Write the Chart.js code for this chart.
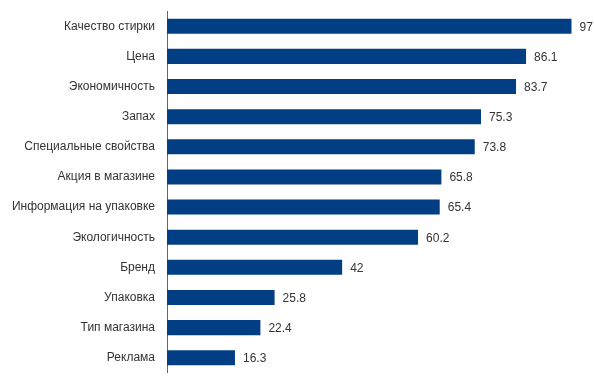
<!DOCTYPE html>
<html>
<head>
<meta charset="utf-8">
<script src="https://cdn.jsdelivr.net/npm/chart.js@4/dist/chart.umd.min.js"></script>
<style>
  html, body { margin: 0; padding: 0; background: #fff; }
  #wrap { width: 594px; height: 384px; }
</style>
</head>
<body>
<div id="wrap"><canvas id="chart" width="594" height="384"></canvas></div>
<script>
// Факторы выбора стирального порошка, %
const categories = [
    'Качество стирки', 'Цена', 'Экономичность', 'Запах', 'Специальные свойства',
    'Акция в магазине', 'Информация на упаковке', 'Экологичность', 'Бренд',
    'Упаковка', 'Тип магазина', 'Реклама'
];
const values = [97, 86.1, 83.7, 75.3, 73.8, 65.8, 65.4, 60.2, 42, 25.8, 22.4, 16.3];

// draws the value to the right of each bar
const valueLabels = {
    id: 'valueLabels',
    afterDatasetsDraw(chart) {
        const ctx = chart.ctx;
        const meta = chart.getDatasetMeta(0);
        ctx.save();
        ctx.font = '12px Arial, "Liberation Sans", sans-serif';
        ctx.fillStyle = '#333';
        ctx.textAlign = 'left';
        ctx.textBaseline = 'middle';
        meta.data.forEach(function (bar, i) {
            ctx.fillText(String(values[i]), bar.x + 8, bar.y + 1);
        });
        ctx.restore();
    }
};

new Chart(document.getElementById('chart'), {
    type: 'bar',
    data: {
        labels: categories,
        datasets: [{
            data: values,
            backgroundColor: '#023e84',
            categoryPercentage: 1,
            barPercentage: 0.5
        }]
    },
    options: {
        indexAxis: 'y',
        responsive: false,
        animation: false,
        maintainAspectRatio: false,
        plugins: {
            legend: { display: false },
            tooltip: { enabled: false }
        },
        layout: {
            padding: { left: 0, right: 10, top: 2, bottom: 2 }
        },
        scales: {
            x: {
                display: false,
                min: 0,
                max: 100
            },
            y: {
                grid: { display: false },
                border: { display: true, color: '#666', width: 1 },
                ticks: {
                    color: '#333',
                    padding: 4,
                    font: { family: 'Arial, "Liberation Sans", sans-serif', size: 12 }
                },
                afterFit: function (scale) { scale.width = 167; }
            }
        }
    },
    plugins: [valueLabels]
});
</script>
</body>
</html>
